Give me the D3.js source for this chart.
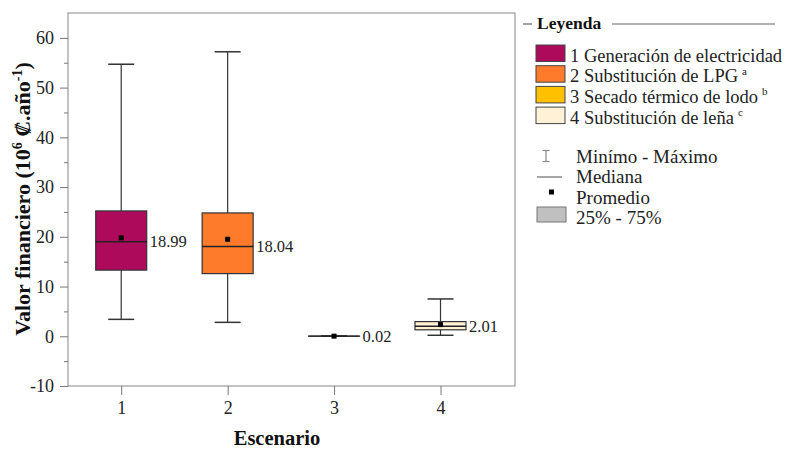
<!DOCTYPE html>
<html>
<head>
<meta charset="utf-8">
<script src="https://cdn.jsdelivr.net/npm/d3@7"></script>
<style>
  body { margin: 0; background: #fff; }
  svg { display: block; }
  svg text { font-family: 'Liberation Serif', serif; }
</style>
</head>
<body>
<div id="chart"></div>
<script>
// Box plot — financial value per scenario

const scenarios = [1, 2, 3, 4];
const mins    = [3.4, 2.8, 0.0, 0.2];
const q1s     = [13.3, 12.6, 0.02, 1.3];
const medians = [18.99, 18.04, 0.02, 2.01];
const q3s     = [25.2, 24.8, 0.02, 2.95];
const maxs    = [54.7, 57.2, 0.05, 7.5];
const means   = [19.8, 19.5, 0.02, 2.35];
const colors  = ['#ad0a5b', '#ff7b2c', '#ffc000', '#fff1d6'];
const legendNames = ['1 Generación de electricidad', '2 Substitución de LPG', '3 Secado térmico de lodo', '4 Substitución de leña'];
const legendSups = ['', 'a', 'b', 'c'];
const yTicks = [-10, 0, 10, 20, 30, 40, 50, 60];
const yMinorTicks = [-5, 5, 15, 25, 35, 45, 55];

const W = 786, H = 449;
const plot = { left: 68, right: 515, top: 13, bottom: 386 };

const data = scenarios.map((s, i) => ({
    s, min: mins[i], q1: q1s[i], med: medians[i], q3: q3s[i], max: maxs[i], mean: means[i], color: colors[i]
}));

const svg = d3.select('#chart').append('svg')
    .attr('width', W)
    .attr('height', H);

const x = d3.scaleLinear().domain([0.5, 4.7]).range([plot.left, plot.right]);
const y = d3.scaleLinear().domain([-10, 65]).range([plot.bottom, plot.top]);

const boxW = 51, capW = 26;

// Frame
svg.append('rect')
    .attr('x', plot.left).attr('y', plot.top)
    .attr('width', plot.right - plot.left).attr('height', plot.bottom - plot.top)
    .attr('fill', 'none').attr('stroke', '#999').attr('stroke-width', 1.2);

// Y axis
const yAxis = svg.append('g')
    .attr('transform', `translate(${plot.left},0)`)
    .call(d3.axisLeft(y).tickValues(yTicks).tickSize(8).tickPadding(6).tickFormat(d => String(d)));
yAxis.select('.domain').remove();
yAxis.selectAll('line').attr('stroke', '#777');
yAxis.selectAll('text').style('font-size', '18px').attr('fill', '#222');

svg.append('g')
    .attr('transform', `translate(${plot.left},0)`)
    .call(d3.axisLeft(y).tickValues(yMinorTicks).tickSize(4).tickFormat(''))
    .call(g => g.select('.domain').remove())
    .selectAll('line').attr('stroke', '#777');

// X axis
const xAxis = svg.append('g')
    .attr('transform', `translate(0,${plot.bottom})`)
    .call(d3.axisBottom(x).tickValues(scenarios).tickSize(9).tickPadding(6).tickFormat(d => String(d)));
xAxis.select('.domain').remove();
xAxis.selectAll('line').attr('stroke', '#777');
xAxis.selectAll('text').style('font-size', '18px').attr('fill', '#222');

// Axis titles
svg.append('text')
    .attr('transform', `translate(30,199) rotate(-90)`)
    .attr('text-anchor', 'middle')
    .style('font-size', '22px').attr('font-weight', 'bold').attr('fill', '#111')
    .call(t => {
        t.append('tspan').text('Valor financiero (10');
        t.append('tspan').attr('dy', -8).style('font-size', '14px').text('6');
        t.append('tspan').attr('dy', 8).text(' ₡.año');
        t.append('tspan').attr('dy', -8).style('font-size', '14px').text('-1');
        t.append('tspan').attr('dy', 8).text(')');
    });

svg.append('text')
    .attr('x', 277).attr('y', 445)
    .attr('text-anchor', 'middle')
    .style('font-size', '20.5px').attr('font-weight', 'bold').attr('fill', '#111')
    .text('Escenario');

// Boxes
const boxes = svg.append('g').selectAll('g.box')
    .data(data).enter().append('g').attr('class', 'box');

boxes.append('line')
    .attr('x1', d => x(d.s)).attr('x2', d => x(d.s))
    .attr('y1', d => y(d.max)).attr('y2', d => y(d.q3))
    .attr('stroke', '#333').attr('stroke-width', 1.2);
boxes.append('line')
    .attr('x1', d => x(d.s)).attr('x2', d => x(d.s))
    .attr('y1', d => y(d.q1)).attr('y2', d => y(d.min))
    .attr('stroke', '#333').attr('stroke-width', 1.2);
boxes.append('line')
    .attr('x1', d => x(d.s) - capW / 2).attr('x2', d => x(d.s) + capW / 2)
    .attr('y1', d => y(d.max)).attr('y2', d => y(d.max))
    .attr('stroke', '#333').attr('stroke-width', 1.5);
boxes.append('line')
    .attr('x1', d => x(d.s) - capW / 2).attr('x2', d => x(d.s) + capW / 2)
    .attr('y1', d => y(d.min)).attr('y2', d => y(d.min))
    .attr('stroke', '#333').attr('stroke-width', 1.5);
boxes.append('rect')
    .attr('x', d => x(d.s) - boxW / 2)
    .attr('y', d => y(d.q3))
    .attr('width', boxW)
    .attr('height', d => Math.max(0.01, y(d.q1) - y(d.q3)))
    .attr('fill', d => d.color)
    .attr('stroke', '#333').attr('stroke-width', 1.2);
boxes.append('line')
    .attr('x1', d => x(d.s) - boxW / 2).attr('x2', d => x(d.s) + boxW / 2)
    .attr('y1', d => y(d.med)).attr('y2', d => y(d.med))
    .attr('stroke', '#222').attr('stroke-width', 1.4);
boxes.append('rect')
    .attr('x', d => x(d.s) - 2.5).attr('y', d => y(d.mean) - 2.5)
    .attr('width', 5).attr('height', 5)
    .attr('fill', '#000');
boxes.append('text')
    .attr('x', d => x(d.s) + boxW / 2 + 3)
    .attr('y', d => y(d.med) + 5.5)
    .style('font-size', '16.5px').attr('fill', '#222')
    .text(d => d3.format('.2f')(d.med));

// Legend
const lg = svg.append('g');
lg.append('line').attr('x1', 523).attr('x2', 532).attr('y1', 24).attr('y2', 24)
    .attr('stroke', '#666').attr('stroke-width', 1.2);
lg.append('text').attr('x', 537).attr('y', 29)
    .style('font-size', '17.5px').attr('font-weight', 'bold').attr('fill', '#111')
    .text('Leyenda');
lg.append('line').attr('x1', 612).attr('x2', 775).attr('y1', 24).attr('y2', 24)
    .attr('stroke', '#666').attr('stroke-width', 1.2);

const items = lg.selectAll('g.item')
    .data(legendNames).enter().append('g').attr('class', 'item')
    .attr('transform', (d, i) => `translate(536,${45 + i * 20.7})`);
items.append('rect')
    .attr('width', 29).attr('height', 16.5)
    .attr('fill', (d, i) => colors[i])
    .attr('stroke', '#444').attr('stroke-width', 1);
items.append('text')
    .attr('x', 34).attr('y', 16.8)
    .style('font-size', '18.5px').attr('fill', '#222')
    .call(t => {
        t.append('tspan').text(d => d);
        t.append('tspan').attr('dx', 4).attr('dy', -8).style('font-size', '11px')
            .text((d, i) => legendSups[i]);
    });

// Symbols legend
const sym = lg.append('g');
sym.append('line').attr('x1', 546).attr('x2', 546).attr('y1', 150.5).attr('y2', 161.5)
    .attr('stroke', '#888').attr('stroke-width', 1.2);
sym.append('line').attr('x1', 542.5).attr('x2', 549.5).attr('y1', 150.5).attr('y2', 150.5)
    .attr('stroke', '#888').attr('stroke-width', 1.2);
sym.append('line').attr('x1', 542.5).attr('x2', 549.5).attr('y1', 161.5).attr('y2', 161.5)
    .attr('stroke', '#888').attr('stroke-width', 1.2);
sym.append('text').attr('x', 576).attr('y', 162.5).style('font-size', '19px').attr('fill', '#222')
    .text('Minímo - Máximo');
sym.append('line').attr('x1', 537).attr('x2', 562).attr('y1', 177).attr('y2', 177)
    .attr('stroke', '#888').attr('stroke-width', 1.5);
sym.append('text').attr('x', 576).attr('y', 183).style('font-size', '19px').attr('fill', '#222')
    .text('Mediana');
sym.append('rect').attr('x', 549).attr('y', 189.5).attr('width', 5).attr('height', 5)
    .attr('fill', '#000');
sym.append('text').attr('x', 576).attr('y', 203.5).style('font-size', '19px').attr('fill', '#222')
    .text('Promedio');
sym.append('rect').attr('x', 537).attr('y', 207).attr('width', 29).attr('height', 15)
    .attr('fill', '#c0c0c0').attr('stroke', '#777').attr('stroke-width', 1);
sym.append('text').attr('x', 576).attr('y', 224).style('font-size', '19px').attr('fill', '#222')
    .text('25% - 75%');
</script>
</body>
</html>
